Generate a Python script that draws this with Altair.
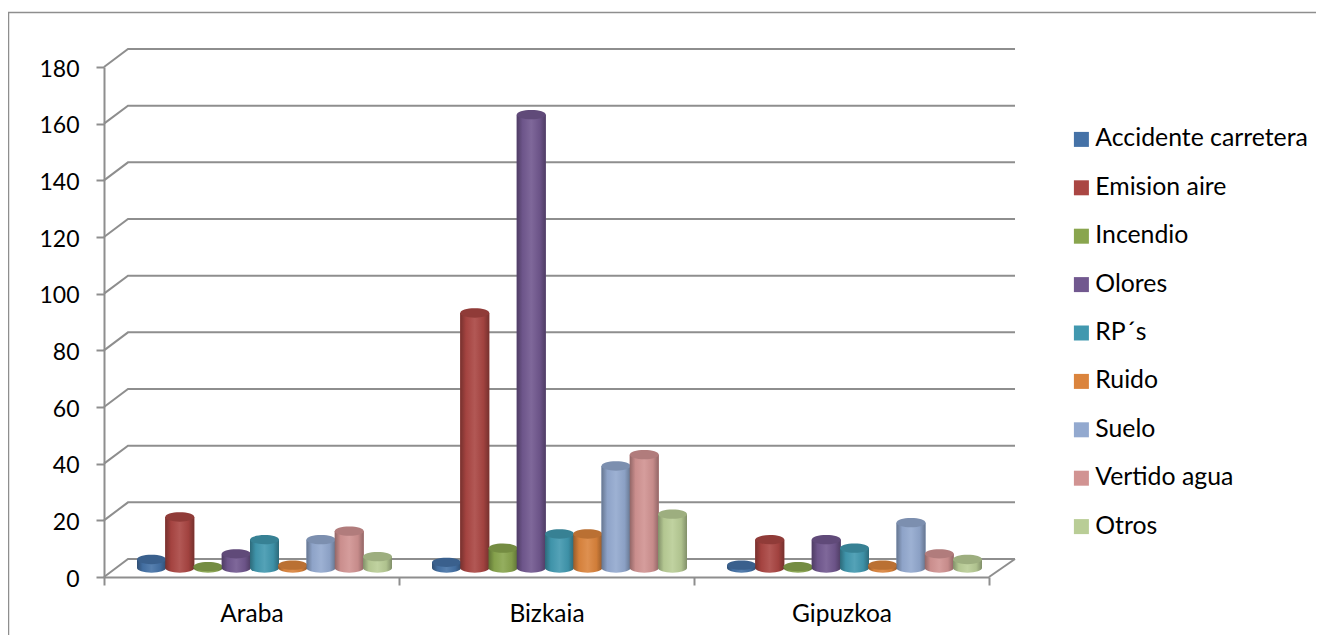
import altair as alt
import pandas as pd

regions = ["Araba", "Bizkaia", "Gipuzkoa"]
series = ["Accidente carretera", "Emision aire", "Incendio", "Olores", "RP´s",
          "Ruido", "Suelo", "Vertido agua", "Otros"]
colors = ["#4572A7", "#AA4643", "#89A54E", "#71588F", "#4198AF",
          "#DB843D", "#93A9CF", "#D19392", "#B9CD96"]
araba = [3, 18, 0.5, 5, 10, 1, 10, 13, 4]
bizkaia = [2, 90, 7, 160, 12, 12, 36, 40, 19]
gipuzkoa = [1, 10, 0.5, 10, 7, 1, 16, 5, 3]
y_ticks = [0, 20, 40, 60, 80, 100, 120, 140, 160, 180]

W, H = 885, 510
px_x = 3 / W
px_y = 180 / H
GREY = "#8e8e8e"
FONT = "Lato"
FS = 23


def shade(h, f):
    r, g, b = (int(h[i:i + 2], 16) for i in (1, 3, 5))
    if f <= 1:
        c = (r * f, g * f, b * f)
    else:
        t = f - 1
        c = (r + (255 - r) * t, g + (255 - g) * t, b + (255 - b) * t)
    return "#%02x%02x%02x" % tuple(int(v) for v in c)


# perspective depth of the chart box
dx, dy = 24 * px_x, 18 * px_y
right_end = 3 + 26 * px_x
grid_rows = []
for v in y_ticks:
    grid_rows += [{"v": v, "k": 0, "gx": 0, "gy": v},
                  {"v": v, "k": 1, "gx": dx, "gy": v + dy},
                  {"v": v, "k": 2, "gx": right_end, "gy": v + dy}]
grid_rows += [{"v": -1, "k": 0, "gx": 3, "gy": 0},
              {"v": -1, "k": 1, "gx": right_end, "gy": dy}]
grid_df = pd.DataFrame(grid_rows)

xs = alt.Scale(domain=[0, 3], nice=False, zero=False)
ys = alt.Scale(domain=[0, 180], nice=False, zero=False)

label_expr = "datum.value % 1 == 0.5 ? " + str(regions) + "[floor(datum.value)] : ''"
x_axis = alt.Axis(values=[0, 0.5, 1, 1.5, 2, 2.5, 3], title=None, labelExpr=label_expr,
                  grid=False, domainColor=GREY, domainWidth=2, tickColor=GREY, tickWidth=2,
                  tickSize=8,
                  tickOpacity={"condition": {"test": "datum.value % 1 == 0", "value": 1}, "value": 0},
                  labelFont=FONT, labelFontSize=24.5, labelColor="#000000", labelPadding=17,
                  labelOverlap=False, labelFlush=False)
y_axis = alt.Axis(values=y_ticks, title=None, grid=False, domainColor=GREY, domainWidth=2,
                  tickColor=GREY, tickWidth=2, tickSize=8, labelFont=FONT, labelFontSize=FS,
                  labelColor="#000000", labelPadding=17, labelOffset=2, labelFlush=False,
                  labelOverlap=False)

grid = alt.Chart(grid_df).mark_line(color=GREY, strokeWidth=2).encode(
    x=alt.X("gx:Q", scale=xs, axis=x_axis),
    y=alt.Y("gy:Q", scale=ys, axis=y_axis),
    detail="v:N",
    order="k:Q",
)

one = pd.DataFrame({"a": [0]})
frame_left = alt.Chart(one).mark_rule(color=GREY, strokeWidth=1.5).encode(
    x=alt.value(-95.5), y=alt.value(-54.5), y2=alt.value(576))
frame_top = alt.Chart(one).mark_rule(color=GREY, strokeWidth=1.5).encode(
    x=alt.value(-96), x2=alt.value(1212), y=alt.value(-54.5))

# cylinders
spacing = 28.25 * px_x
half = 14.5 * px_x
shift_x = 13 * px_x
base = 9 * px_y
rows = []
for c, vals in enumerate([araba, bizkaia, gipuzkoa]):
    for s, v in enumerate(vals):
        xc = c + 0.5 + shift_x + (s - 4) * spacing
        rows.append({"region": regions[c], "series": series[s], "value": v,
                     "xc": xc, "x0": xc - half, "x1": xc + half,
                     "y0": base, "y1": v + base})
df = pd.DataFrame(rows)

ELLIPSE = "M-1,0 A1,0.32 0 1,1 1,0 A1,0.32 0 1,1 -1,0 Z"
SIZE = 29 ** 2

legend = alt.Legend(title=None, orient="none", legendX=965, legendY=60, symbolType="square",
                    symbolSize=225, symbolStrokeWidth=0, labelFont=FONT, labelFontSize=24.8,
                    labelColor="#000000", rowPadding=22.4, labelOffset=1.5, labelLimit=300)
color_layer = alt.Chart(df).mark_rect().encode(
    x=alt.X("x0:Q", scale=xs, axis=x_axis), x2="x1:Q",
    y=alt.Y("y0:Q", scale=ys, axis=y_axis), y2="y1:Q",
    color=alt.Color("series:N", scale=alt.Scale(domain=series, range=colors), legend=legend),
)

layers = [frame_left, frame_top, grid, color_layer]
for name, col in zip(series, colors):
    sub = df[df.series == name]
    grad = alt.Gradient(gradient="linear", x1=0, x2=1, y1=0, y2=0, stops=[
        alt.GradientStop(offset=0, color=shade(col, 0.7)),
        alt.GradientStop(offset=0.2, color=shade(col, 0.97)),
        alt.GradientStop(offset=0.5, color=shade(col, 1.1)),
        alt.GradientStop(offset=0.8, color=shade(col, 0.95)),
        alt.GradientStop(offset=1, color=shade(col, 0.7)),
    ])
    bottom = alt.Chart(sub).mark_point(shape=ELLIPSE, size=SIZE, filled=True, opacity=1, fill=grad, strokeWidth=0).encode(
        x=alt.X("xc:Q", scale=xs, axis=x_axis), y=alt.Y("y0:Q", scale=ys, axis=y_axis))
    body = alt.Chart(sub).mark_rect(fill=grad).encode(
        x=alt.X("x0:Q", scale=xs, axis=x_axis), x2="x1:Q",
        y=alt.Y("y0:Q", scale=ys, axis=y_axis), y2="y1:Q")
    top = alt.Chart(sub).mark_point(shape=ELLIPSE, size=SIZE, filled=True, opacity=1, fill=shade(col, 0.85), strokeWidth=0).encode(
        x=alt.X("xc:Q", scale=xs, axis=x_axis), y=alt.Y("y1:Q", scale=ys, axis=y_axis))
    layers += [bottom, body, top]

chart = alt.layer(*layers).properties(
    width=W, height=H,
    padding={"left": 96, "top": 59, "right": 327, "bottom": 58},
    autosize=alt.AutoSizeParams(type="none"),
    background="#ffffff",
).configure_view(stroke=None)

chart.save("out.html", embed_options={"renderer": "svg", "actions": False})
